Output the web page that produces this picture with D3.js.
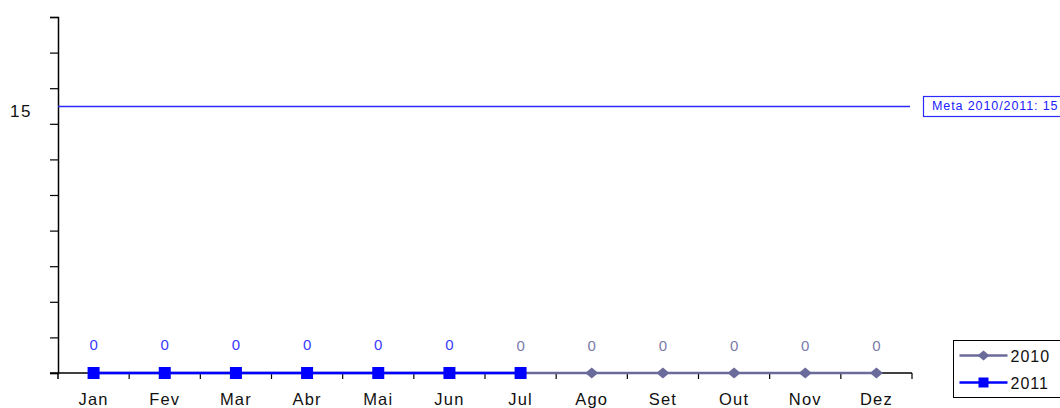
<!DOCTYPE html>
<html>
<head>
<meta charset="utf-8">
<script src="https://cdn.jsdelivr.net/npm/d3@7"></script>
<style>
  body { margin: 0; background: #fff; }
  text { font-family: "Liberation Sans", Arial, sans-serif; }
</style>
</head>
<body>
<svg id="chart" width="1060" height="408"></svg>
<script>
// -------- data --------
const months = ["Jan", "Fev", "Mar", "Abr", "Mai", "Jun", "Jul", "Ago", "Set", "Out", "Nov", "Dez"];
const values2010 = [0, 0, 0, 0, 0, 0, 0, 0, 0, 0, 0, 0];
const values2011 = [0, 0, 0, 0, 0, 0, 0];
const meta = 15;
const metaLabel = "Meta 2010/2011: 15";
const yTickLabels = [15];

// -------- setup --------
const svg = d3.select("#chart"),
  margin = { top: 17, left: 58, right: 148, bottom: 35 },
  width = 1060,
  height = 408;

const x = d3
  .scaleBand()
  .domain(months)
  .range([margin.left, width - margin.right]);

const y = d3
  .scaleLinear()
  .domain([0, 20])
  .range([height - margin.bottom, margin.top]);

const cx = (m) => x(m) + x.bandwidth() / 2;

// squat diamond marker like the original
const diamond = (w, h) => `M${-w / 2},0L0,${-h / 2}L${w / 2},0L0,${h / 2}Z`;

// y axis: ticks every 2, only "15" labelled
svg
  .append("g")
  .attr("transform", `translate(${margin.left},0)`)
  .call(d3.axisLeft(y).tickValues(d3.range(0, 21, 2)).tickSize(8).tickFormat(""))
  .call((g) => g.select(".domain").attr("stroke", "#000").attr("stroke-width", 1.5))
  .call((g) => g.selectAll(".tick line").attr("stroke", "#000").attr("stroke-width", 1.2));

svg
  .selectAll("text.ylab")
  .data(yTickLabels)
  .enter()
  .append("text")
  .attr("class", "ylab")
  .attr("x", 21)
  .attr("y", (d) => y(d) + 11)
  .attr("text-anchor", "middle")
  .attr("font-size", 17)
  .attr("letter-spacing", 1.5)
  .attr("fill", "#111")
  .text((d) => d);

// x axis: ticks at band boundaries
const xAxis = svg.append("g").attr("transform", `translate(0,${y(0)})`);
xAxis
  .append("line")
  .attr("x1", margin.left - 8)
  .attr("x2", width - margin.right)
  .attr("stroke", "#000")
  .attr("stroke-width", 1.5);
xAxis
  .selectAll("line.tk")
  .data(months)
  .enter()
  .append("line")
  .attr("class", "tk")
  .attr("x1", (d) => x(d) + x.bandwidth())
  .attr("x2", (d) => x(d) + x.bandwidth())
  .attr("y1", 0)
  .attr("y2", 6)
  .attr("stroke", "#000")
  .attr("stroke-width", 1.2);
xAxis
  .append("line")
  .attr("x1", margin.left)
  .attr("x2", margin.left)
  .attr("y1", 0)
  .attr("y2", 6)
  .attr("stroke", "#000")
  .attr("stroke-width", 1.5);
xAxis
  .selectAll("text")
  .data(months)
  .enter()
  .append("text")
  .attr("x", (d) => cx(d))
  .attr("y", 32)
  .attr("text-anchor", "middle")
  .attr("font-size", 16.5)
  .attr("letter-spacing", 1.2)
  .attr("fill", "#111")
  .text((d) => d);

// meta line + label box
svg
  .append("line")
  .attr("x1", margin.left)
  .attr("x2", 910)
  .attr("y1", y(meta) + 0.5)
  .attr("y2", y(meta) + 0.5)
  .attr("stroke", "#2b2bff")
  .attr("stroke-width", 1.3);
svg
  .append("rect")
  .attr("x", 923.5)
  .attr("y", y(meta) - 9.5)
  .attr("width", 150)
  .attr("height", 20)
  .attr("fill", "#fff")
  .attr("stroke", "#2b2bff")
  .attr("stroke-width", 1.2);
svg
  .append("text")
  .attr("x", 932)
  .attr("y", y(meta) + 4)
  .attr("font-size", 12.5)
  .attr("letter-spacing", 0.9)
  .attr("fill", "#2020ff")
  .text(metaLabel);

// series
const line = d3
  .line()
  .x((d, i) => cx(months[i]))
  .y((d) => y(d));

const c2010 = "#6b6b9b",
  c2011 = "#0000ff";

svg
  .append("path")
  .datum(values2010)
  .attr("d", line)
  .attr("fill", "none")
  .attr("stroke", c2010)
  .attr("stroke-width", 2.4);

svg
  .selectAll("path.dia")
  .data(values2010)
  .enter()
  .append("path")
  .attr("class", "dia")
  .attr("d", diamond(13, 11))
  .attr("transform", (d, i) => `translate(${cx(months[i])},${y(d)})`)
  .attr("fill", c2010);

svg
  .append("path")
  .datum(values2011)
  .attr("d", line)
  .attr("fill", "none")
  .attr("stroke", c2011)
  .attr("stroke-width", 2.6);

svg
  .selectAll("rect.sq")
  .data(values2011)
  .enter()
  .append("rect")
  .attr("class", "sq")
  .attr("x", (d, i) => cx(months[i]) - 6)
  .attr("y", (d) => y(d) - 6)
  .attr("width", 12)
  .attr("height", 12)
  .attr("fill", c2011);

// data labels
svg
  .selectAll("text.l2010")
  .data(values2010)
  .enter()
  .filter((d, i) => i >= values2011.length - 1)
  .append("text")
  .attr("class", "l2010")
  .attr("x", (d, i) => cx(months[i + values2011.length - 1]))
  .attr("y", (d) => y(d) - 22)
  .attr("text-anchor", "middle")
  .attr("font-size", 15)
  .attr("fill", "#7a7aaa")
  .text((d) => d);

svg
  .selectAll("text.l2011")
  .data(values2011.slice(0, values2011.length - 1))
  .enter()
  .append("text")
  .attr("class", "l2011")
  .attr("x", (d, i) => cx(months[i]))
  .attr("y", (d) => y(d) - 23)
  .attr("text-anchor", "middle")
  .attr("font-size", 15)
  .attr("fill", "#3a3aff")
  .text((d) => d);

// legend
const legend = svg.append("g").attr("transform", "translate(953.5,340.5)");
legend
  .append("rect")
  .attr("width", 110)
  .attr("height", 57)
  .attr("fill", "#fff")
  .attr("stroke", "#000")
  .attr("stroke-width", 1);

const legendItems = [
  { name: "2010", color: c2010, shape: "diamond" },
  { name: "2011", color: c2011, shape: "square" },
];

const li = legend
  .selectAll("g.item")
  .data(legendItems)
  .enter()
  .append("g")
  .attr("class", "item")
  .attr("transform", (d, i) => `translate(0,${15 + i * 27})`);

li.append("line")
  .attr("x1", 6)
  .attr("x2", 54)
  .attr("stroke", (d) => d.color)
  .attr("stroke-width", (d) => (d.shape === "square" ? 2.6 : 2.4));

li.append("path")
  .attr("d", (d) =>
    d.shape === "square" ? d3.symbol(d3.symbolSquare, 100)() : diamond(12, 10)
  )
  .attr("transform", "translate(30,0)")
  .attr("fill", (d) => d.color);

li.append("text")
  .attr("x", 57)
  .attr("y", 6)
  .attr("font-size", 16)
  .attr("letter-spacing", 1)
  .attr("fill", "#111")
  .text((d) => d.name);
</script>
</body>
</html>
